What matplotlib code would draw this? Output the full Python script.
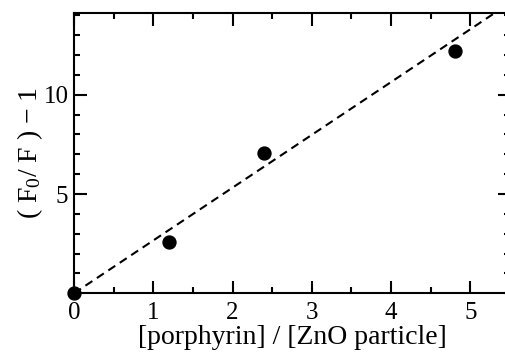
import matplotlib
matplotlib.use("Agg")
import matplotlib.pyplot as plt
from matplotlib.ticker import MultipleLocator, FixedLocator

plt.rcParams['font.family'] = ['Liberation Serif', 'DejaVu Serif']
plt.rcParams['mathtext.fontset'] = 'custom'
plt.rcParams['mathtext.rm'] = 'Liberation Serif'
plt.rcParams['mathtext.it'] = 'Liberation Serif:italic'

# data
ratio = [0.0, 1.2, 2.4, 4.8]
quench = [0.0, 2.6, 7.05, 12.2]
fit_x = [0.0, 5.5]
fit_slope = 2.66

fig = plt.figure(figsize=(5.05, 3.63), dpi=100)
ax = fig.add_axes([0.1465, 0.192, 0.8634, 0.7713])

ax.plot(fit_x, [fit_slope * v for v in fit_x], color='black', lw=1.5,
        ls=(0, (4, 2.6)), zorder=2)
ax.plot(ratio, quench, 'o', color='black', ms=9.3, zorder=3, clip_on=False)

ax.set_xlim(0, 5.5)
ax.set_ylim(0, 14.1)

ax.xaxis.set_major_locator(MultipleLocator(1))
ax.xaxis.set_minor_locator(MultipleLocator(0.5))
ax.yaxis.set_major_locator(FixedLocator([5, 10]))
ax.yaxis.set_minor_locator(MultipleLocator(1))

for s in ax.spines.values():
    s.set_linewidth(1.5)

ax.tick_params(which='both', direction='in', top=True, right=True,
               width=1.5, labelsize=18)
ax.tick_params(which='major', length=9)
ax.tick_params(which='minor', length=4.5)
ax.tick_params(axis='x', pad=6)
ax.tick_params(axis='y', pad=4)

ax.set_xlabel('[porphyrin] / [ZnO particle]', fontsize=20, labelpad=1)
ax.set_ylabel(r'( F$_0$/ F ) $-$ 1', fontsize=20, labelpad=-1)

fig.savefig('out.png', dpi=100)
